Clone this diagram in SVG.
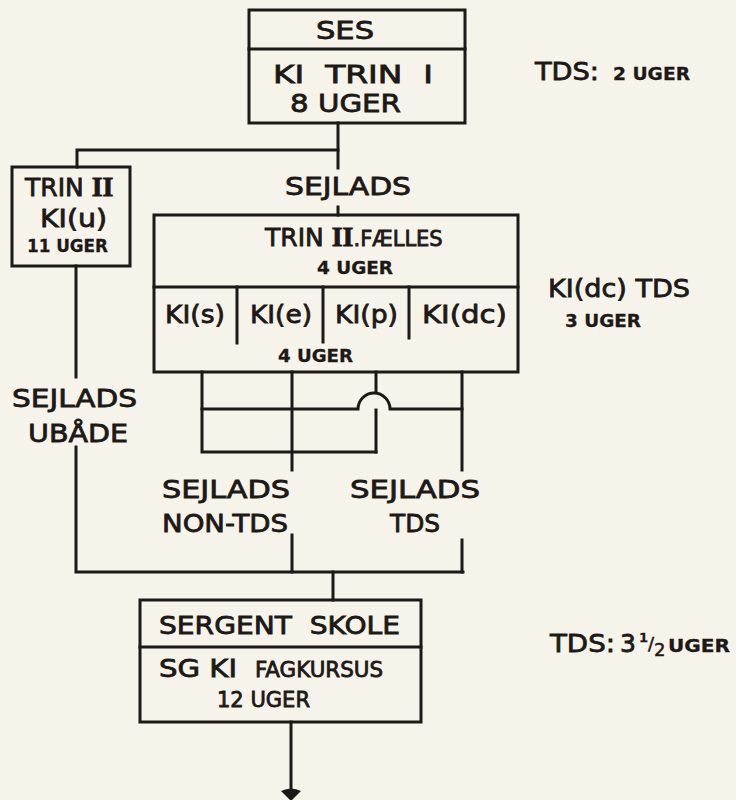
<svg xmlns="http://www.w3.org/2000/svg" width="736" height="800" viewBox="0 0 736 800">
<style>
.bg{fill:#f6f3ea}
.box{fill:none;stroke:#1c1916;stroke-width:3}
.ln{fill:none;stroke:#1c1916;stroke-width:3;stroke-linecap:square}
text{font-family:"DejaVu Sans","Liberation Sans",sans-serif;fill:#1c1916;stroke:#1c1916;stroke-width:0.8}
.l{font-size:25px}
.m{font-size:21px}
.s{font-size:17px;font-weight:bold;stroke-width:0.3}
.r{font-family:"Liberation Serif",serif;font-weight:bold}
</style>
<rect class="bg" x="0" y="0" width="736" height="800"/>

<g id="connectors">
  <path class="ln" d="M338,123 V168 M338,207 V215"/>
  <path class="ln" d="M77,150 H338 M77,150 V167"/>
  <path class="ln" d="M76,266 V377 M76,447 V572 H463"/>
  <path class="ln" d="M202,372 V452 H376 M292,372 V470 M292,535 V572 M462,372 V470 M462,540 V572"/>
  <path class="ln" d="M202,409 H358 A15,15 0 0 1 390,409 H462"/>
  <path class="ln" d="M376,372 V392 M376,410 V452"/>
  <path class="ln" d="M333,572 V600"/>
  <path class="ln" d="M291,722 V792"/>
  <path d="M281,791 Q291,786 301,791 L291,801 Z" fill="#1c1916"/>
</g>

<g id="ses">
  <rect class="box" x="249" y="10" width="216" height="113"/>
  <line class="ln" x1="249" y1="49" x2="465" y2="49"/>
  <text class="l" x="316" y="39" textLength="58" lengthAdjust="spacingAndGlyphs">SES</text>
  <text class="l" x="273" y="83" xml:space="preserve" textLength="160" lengthAdjust="spacingAndGlyphs">KI  TRIN  I</text>
  <text class="l" x="290" y="112" textLength="111" lengthAdjust="spacingAndGlyphs">8 UGER</text>
</g>

<g id="tds1">
  <text class="l" x="535" y="80" textLength="64" lengthAdjust="spacingAndGlyphs">TDS:</text>
  <text class="s" x="613" y="80" textLength="77" lengthAdjust="spacingAndGlyphs">2 UGER</text>
</g>

<g id="sejlads-top">
  <text class="l" x="285" y="195" textLength="126" lengthAdjust="spacingAndGlyphs">SEJLADS</text>
</g>

<g id="trin2u">
  <rect class="box" x="12" y="167" width="118" height="99"/>
  <text class="l" x="25" y="196">TRIN <tspan class="r" font-size="28">II</tspan></text>
  <text class="l" x="40" y="227" textLength="67" lengthAdjust="spacingAndGlyphs">KI(u)</text>
  <text class="s" x="27" y="252" textLength="81" lengthAdjust="spacingAndGlyphs">11 UGER</text>
</g>

<g id="trin2faelles">
  <rect class="box" x="154" y="215" width="364" height="157"/>
  <line class="ln" x1="154" y1="287" x2="518" y2="287"/>
  <line class="ln" x1="237" y1="287" x2="237" y2="343"/>
  <line class="ln" x1="323" y1="287" x2="323" y2="342"/>
  <line class="ln" x1="409" y1="287" x2="409" y2="338"/>
  <text class="l" x="265" y="246">TRIN <tspan class="r" font-size="28">II</tspan><tspan class="m">.FÆLLES</tspan></text>
  <text class="s" x="317" y="274" font-size="19" textLength="76" lengthAdjust="spacingAndGlyphs">4 UGER</text>
  <text class="l" x="165" y="323" font-size="23" textLength="60" lengthAdjust="spacingAndGlyphs">KI(s)</text>
  <text class="l" x="250" y="323" font-size="23" textLength="62" lengthAdjust="spacingAndGlyphs">KI(e)</text>
  <text class="l" x="335" y="323" font-size="23" textLength="63" lengthAdjust="spacingAndGlyphs">KI(p)</text>
  <text class="l" x="422" y="323" font-size="23" textLength="85" lengthAdjust="spacingAndGlyphs">KI(dc)</text>
  <text class="s" x="278" y="362" font-size="19" textLength="75" lengthAdjust="spacingAndGlyphs">4 UGER</text>
</g>

<g id="kidc-tds">
  <text class="l" x="548" y="297" textLength="142" lengthAdjust="spacingAndGlyphs">KI(dc) TDS</text>
  <text class="s" x="565" y="327" textLength="76" lengthAdjust="spacingAndGlyphs">3 UGER</text>
</g>

<g id="sejlads-ubaade">
  <text class="l" x="12" y="407" textLength="125" lengthAdjust="spacingAndGlyphs">SEJLADS</text>
  <text class="l" x="28" y="442" textLength="100" lengthAdjust="spacingAndGlyphs">UBÅDE</text>
</g>

<g id="sejlads-nontds">
  <text class="l" x="162" y="498" textLength="128" lengthAdjust="spacingAndGlyphs">SEJLADS</text>
  <text class="l" x="162" y="532" textLength="126" lengthAdjust="spacingAndGlyphs">NON-TDS</text>
</g>

<g id="sejlads-tds">
  <text class="l" x="350" y="498" textLength="130" lengthAdjust="spacingAndGlyphs">SEJLADS</text>
  <text class="l" x="390" y="532" textLength="50" lengthAdjust="spacingAndGlyphs">TDS</text>
</g>

<g id="sergent">
  <rect class="box" x="140" y="600" width="281" height="122"/>
  <line class="ln" x1="140" y1="647" x2="421" y2="647"/>
  <text class="l" x="159" y="634" xml:space="preserve" textLength="241" lengthAdjust="spacingAndGlyphs">SERGENT  SKOLE</text>
  <text class="l" x="159" y="677" textLength="78" lengthAdjust="spacingAndGlyphs">SG KI</text>
  <text class="m" x="255" y="677" font-size="19" textLength="128" lengthAdjust="spacingAndGlyphs">FAGKURSUS</text>
  <text class="m" x="217" y="707" textLength="93" lengthAdjust="spacingAndGlyphs">12 UGER</text>
</g>

<g id="tds2">
  <text class="l" x="550" y="652" textLength="65" lengthAdjust="spacingAndGlyphs">TDS:</text>
  <text class="l" x="620" y="652" font-size="22">3<tspan font-size="13" dx="3" dy="-10" font-weight="bold" stroke-width="0.3">1</tspan><tspan font-size="18" dy="8" stroke-width="0.5">/</tspan><tspan font-size="18" dy="6" stroke-width="0.5">2</tspan></text>
  <text class="s" x="668" y="652" textLength="62" lengthAdjust="spacingAndGlyphs">UGER</text>
</g>
</svg>
